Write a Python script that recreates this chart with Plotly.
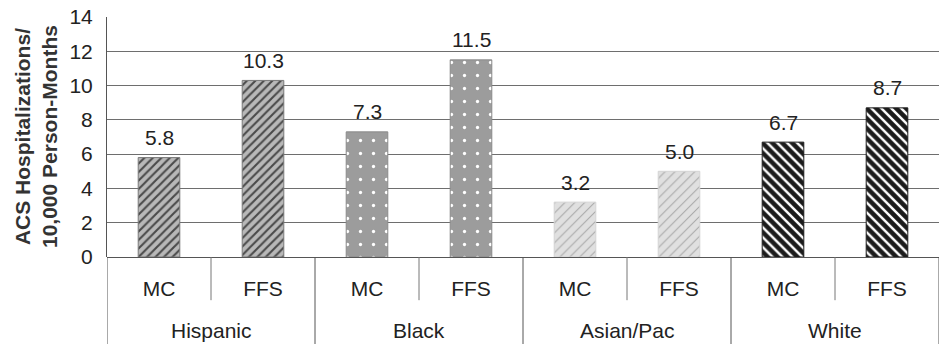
import plotly.graph_objects as go

# ACS hospitalization rates per 10,000 person-months, by race/ethnicity and plan type
plans = ["MC", "FFS"]
groups = ["Hispanic", "Black", "Asian/Pac", "White"]
hispanic = [5.8, 10.3]
black = [7.3, 11.5]
asian_pac = [3.2, 5.0]
white = [6.7, 8.7]
y_ticks = [0, 2, 4, 6, 8, 10, 12, 14]

series = [hispanic, black, asian_pac, white]
styles = [
    dict(bg="#b8b8b8", fg="#4a4a4a", shape="/", size=6, solidity=0.35, edge="#7a7a7a"),
    dict(bg="#9c9c9c", fg="#ffffff", shape=".", size=13, solidity=0.05, edge="#8a8a8a"),
    dict(bg="#e0e0e0", fg="#a8a8a8", shape="/", size=7, solidity=0.15, edge="#d4d4d4"),
    dict(bg="#1c1c1c", fg="#ffffff", shape="\\", size=7, solidity=0.35, edge="#1c1c1c"),
]

FONT = "Liberation Sans, Arial, sans-serif"
TXT = "#222222"
FS = 21

fig = go.Figure()
positions = []
labels = []
for g, (name, vals, st) in enumerate(zip(groups, series, styles)):
    xs = [2 * g + k for k in range(len(plans))]
    positions += xs
    labels += plans
    fig.add_trace(go.Bar(
        x=xs, y=vals, width=0.4, name=name,
        marker=dict(
            color=st["bg"],
            line=dict(color=st["edge"], width=1),
            pattern=dict(shape=st["shape"], fgcolor=st["fg"], bgcolor=st["bg"],
                         size=st["size"], solidity=st["solidity"], fillmode="replace"),
        ),
        showlegend=False,
    ))
    for x, v in zip(xs, vals):
        fig.add_annotation(x=x, y=v, text=f"{v:.1f}", showarrow=False,
                           yanchor="middle", yshift=20,
                           font=dict(family=FONT, size=FS, color=TXT))
    # group label under the plan labels
    fig.add_annotation(x=2 * g + 0.5, y=0, xref="x", yref="paper", text=name,
                       showarrow=False, yanchor="middle", yshift=-73,
                       font=dict(family=FONT, size=FS, color=TXT))

# category dividers below the axis
for g in range(len(groups) + 1):
    fig.add_shape(type="line", xref="x", yref="paper", x0=2 * g - 0.5, x1=2 * g - 0.5,
                  y0=0, y1=-0.37, line=dict(color="#555555", width=1))
for g in range(len(groups)):
    fig.add_shape(type="line", xref="x", yref="paper", x0=2 * g + 0.5, x1=2 * g + 0.5,
                  y0=0, y1=-0.18, line=dict(color="#777777", width=1))

# y axis title
fig.add_annotation(x=0, y=0.5, xref="paper", yref="paper", xshift=-71,
                   text="<b>ACS Hospitalizations/<br>10,000 Person-Months</b>",
                   textangle=-90, showarrow=False, xanchor="center", yanchor="middle",
                   font=dict(family=FONT, size=FS, color="#333333"))

fig.update_layout(
    width=939, height=344,
    margin=dict(l=107, r=0, t=17, b=87),
    paper_bgcolor="white", plot_bgcolor="white",
    bargap=0.6,
    font=dict(family=FONT, size=FS, color=TXT),
    xaxis=dict(range=[-0.5, 7.5], tickvals=positions, ticktext=labels,
               showgrid=False, zeroline=False, showline=False, ticks="",
               ticklabelstandoff=17, tickfont=dict(family=FONT, size=FS, color=TXT)),
    yaxis=dict(range=[0, 14], tickvals=y_ticks, showgrid=True, gridcolor="#6e6e6e",
               gridwidth=1, zeroline=True, zerolinecolor="#555555", zerolinewidth=1,
               showline=True, linecolor="#555555", linewidth=1, ticks="",
               ticklabelstandoff=9, tickfont=dict(family=FONT, size=FS, color=TXT)),
)

fig.write_html("out.html")
